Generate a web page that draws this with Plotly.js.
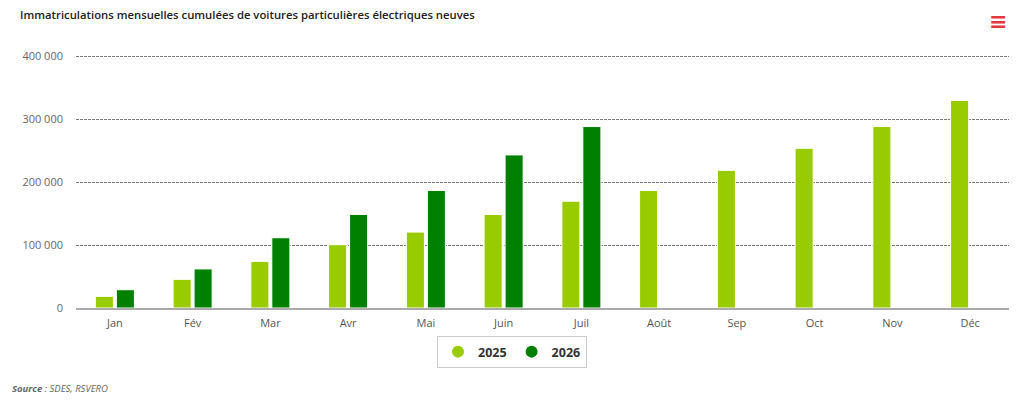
<!DOCTYPE html>
<html>
<head>
<meta charset="utf-8">
<script src="https://cdn.plot.ly/plotly-3.0.1.min.js"></script>
<style>html,body{margin:0;padding:0;background:#fff;}#chart{width:1024px;height:404px;}</style>
</head>
<body>
<div id="chart"></div>
<script>
const months = ["Jan","Fév","Mar","Avr","Mai","Juin","Juil","Août","Sep","Oct","Nov","Déc"];
const values2025 = [18500, 45500, 74000, 100500, 120500, 148500, 169500, 186500, 218500, 253500, 288000, 329500];
const values2026 = [29000, 62000, 111500, 148500, 186500, 243000, 288000, null, null, null, null, null];
const yTicks = [0, 100000, 200000, 300000, 400000];
const seriesNames = ["2025", "2026"];
const colors = ["#99cc00", "#008000"];

const W = 1024, H = 404;
const PL = 76, PR = 15, PT = 52, PB = 96;
const PW = W - PL - PR, PH = H - PT - PB;
const yMax = 400000 * PH / 252;
const traces = [
  {type:'bar', x:months, y:values2025, name:seriesNames[0], showlegend:false,
   marker:{color:colors[0], line:{color:'#ffffff', width:1}}, hoverinfo:'x+y'},
  {type:'bar', x:months, y:values2026, name:seriesNames[1], showlegend:false,
   marker:{color:colors[1], line:{color:'#ffffff', width:1}}, hoverinfo:'x+y'},
  {type:'scatter', mode:'markers', x:[months[0]], y:[null], name:seriesNames[0],
   marker:{color:colors[0], size:12, symbol:'circle'}, hoverinfo:'skip'},
  {type:'scatter', mode:'markers', x:[months[0]], y:[null], name:seriesNames[1],
   marker:{color:colors[1], size:12, symbol:'circle'}, hoverinfo:'skip'}
];

const layout = {
  width:W, height:H,
  margin:{l:PL, r:PR, t:PT, b:PB},
  paper_bgcolor:'#ffffff', plot_bgcolor:'#ffffff',
  separators:', ',
  barmode:'group', bargap:0.46, bargroupgap:0.14,
  font:{family:'"Open Sans", "DejaVu Sans", sans-serif', color:'#666666', size:11},
  title:{text:'Immatriculations mensuelles cumulées de voitures particulières électriques neuves',
    x:20/W, xref:'container', xanchor:'left', y:1-15/H, yref:'container', yanchor:'middle',
    font:{family:'"Open Sans", sans-serif', size:11.3, color:'#222222', weight:600}},
  xaxis:{type:'category', categoryorder:'array', categoryarray:months, range:[-0.5, 11.5],
    showgrid:false, showline:true, linecolor:'#aaaaaa', linewidth:2,
    ticks:'', tickfont:{size:11, color:'#555555'}, ticklabelstandoff:4, fixedrange:true},
  yaxis:{range:[0,yMax], tickvals:yTicks, tickformat:',d', showgrid:true,
    gridcolor:'#777777', griddash:'3px,1px', gridwidth:1, zeroline:false,
    showline:false, ticks:'', ticklabelstandoff:12, tickfont:{size:11, color:'#666666'}, fixedrange:true},
  showlegend:true,
  legend:{orientation:'h', x:0.5, xref:'container', xanchor:'center',
    y:1-352/H, yref:'container', yanchor:'middle',
    bordercolor:'#cccccc', borderwidth:1, bgcolor:'#ffffff',
    font:{size:12.5, color:'#333333', weight:700}, itemwidth:30, tracegroupgap:0},
  annotations:[
    {text:'<i><b>Source</b> : SDES, RSVERO</i>', xref:'paper', yref:'paper',
     x:(10-PL)/PW, y:-(388-(H-PB))/PH, xanchor:'left', yanchor:'middle', showarrow:false,
     font:{size:9.5, color:'#666666'}},
    {text:'<b>≡</b>', xref:'paper', yref:'paper', x:(998-PL)/PW, y:1+(PT-20)/PH,
     xanchor:'center', yanchor:'middle', showarrow:false,
     font:{size:22, color:'#e0383e'}}
  ]
};

Plotly.newPlot('chart', traces, layout, {displayModeBar:false, responsive:false});
</script>
</body>
</html>
